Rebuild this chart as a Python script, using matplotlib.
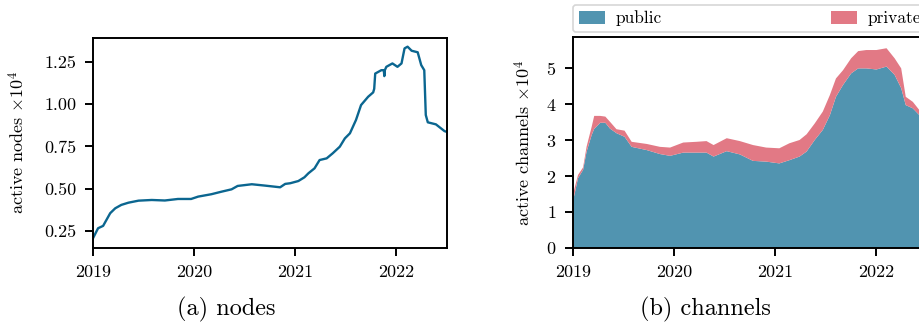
import matplotlib
matplotlib.use("Agg")
import matplotlib.pyplot as plt
from matplotlib.ticker import FormatStrFormatter

plt.rcParams['font.family'] = ['cmr10', 'DejaVu Serif']
plt.rcParams['mathtext.fontset'] = 'cm'
plt.rcParams['axes.formatter.use_mathtext'] = True
plt.rcParams['axes.unicode_minus'] = False

# active nodes (x 10^4)
node_years = [2019.00, 2019.05, 2019.10, 2019.17, 2019.22, 2019.28, 2019.35, 2019.45,
              2019.58, 2019.71, 2019.84, 2019.97, 2020.04, 2020.17, 2020.27, 2020.37,
              2020.43, 2020.57, 2020.70, 2020.85, 2020.90, 2020.95, 2021.03, 2021.09,
              2021.13, 2021.19, 2021.24, 2021.31, 2021.37, 2021.44, 2021.49, 2021.54,
              2021.60, 2021.65, 2021.72, 2021.77, 2021.78, 2021.79, 2021.85, 2021.875,
              2021.88, 2021.885, 2021.90, 2021.96, 2022.01, 2022.05, 2022.08, 2022.11,
              2022.15, 2022.21, 2022.245, 2022.275, 2022.29, 2022.31, 2022.39, 2022.475,
              2022.50]
node_vals = [0.207, 0.266, 0.280, 0.355, 0.384, 0.404, 0.417, 0.429,
             0.433, 0.430, 0.439, 0.439, 0.453, 0.467, 0.482, 0.496,
             0.516, 0.526, 0.518, 0.508, 0.528, 0.532, 0.545, 0.567,
             0.591, 0.620, 0.669, 0.679, 0.709, 0.748, 0.797, 0.827,
             0.906, 0.994, 1.043, 1.069, 1.090, 1.180, 1.200, 1.200,
             1.165, 1.200, 1.220, 1.240, 1.220, 1.240, 1.329, 1.339,
             1.315, 1.306, 1.230, 1.200, 0.935, 0.892, 0.880, 0.840,
             0.835]

# active channels (x 10^4)
chan_years = [2019.00, 2019.05, 2019.10, 2019.135, 2019.185, 2019.21, 2019.27, 2019.32,
              2019.365, 2019.43, 2019.51, 2019.58, 2019.73, 2019.86, 2019.96, 2020.09,
              2020.22, 2020.32, 2020.39, 2020.52, 2020.65, 2020.78, 2020.91, 2021.04,
              2021.14, 2021.24, 2021.31, 2021.39, 2021.47, 2021.54, 2021.60, 2021.67,
              2021.75, 2021.82, 2021.90, 2022.00, 2022.10, 2022.18, 2022.245, 2022.29,
              2022.36, 2022.425, 2022.50]
public = [1.30, 1.94, 2.17, 2.68, 3.14, 3.31, 3.48, 3.48,
          3.32, 3.19, 3.09, 2.81, 2.72, 2.61, 2.56, 2.65,
          2.65, 2.65, 2.54, 2.69, 2.60, 2.42, 2.40, 2.35,
          2.44, 2.54, 2.68, 3.00, 3.28, 3.69, 4.20, 4.53,
          4.85, 4.99, 4.99, 4.96, 5.04, 4.81, 4.44, 3.97,
          3.88, 3.69, 3.58]
private = [0.20, 0.09, 0.07, 0.14, 0.23, 0.36, 0.19, 0.17,
           0.19, 0.11, 0.17, 0.14, 0.17, 0.20, 0.23, 0.28,
           0.30, 0.32, 0.32, 0.36, 0.37, 0.44, 0.39, 0.42,
           0.47, 0.46, 0.48, 0.46, 0.51, 0.56, 0.51, 0.41,
           0.42, 0.48, 0.51, 0.54, 0.51, 0.46, 0.55, 0.23,
           0.18, 0.14, 0.14]

year_ticks = [2019, 2020, 2021, 2022]

line_color = '#0b6690'
public_color = '#5194b0'
private_color = '#e27985'

fig = plt.figure(figsize=(9.2, 3.24), dpi=100)
ax1 = fig.add_axes([0.1011, 0.2355, 0.3848, 0.6481])
ax2 = fig.add_axes([0.6228, 0.2346, 0.3848, 0.6521])


def style_axes(ax):
    for sp in ax.spines.values():
        sp.set_linewidth(1.4)
    ax.tick_params(direction='out', length=5.5, width=1.4, labelsize=13,
                   pad=6.5, top=False, right=False)
    ax.set_xticks(year_ticks)
    ax.set_xticklabels([str(y) for y in year_ticks])
    ax.set_xlim(2019.0, 2022.5)


# (a) nodes
ax1.plot(node_years, node_vals, color=line_color, lw=1.7)
ax1.set_ylim(0.151, 1.392)
ax1.set_yticks([0.25, 0.50, 0.75, 1.00, 1.25])
ax1.yaxis.set_major_formatter(FormatStrFormatter('%.2f'))
ax1.set_ylabel(r'active nodes $\times10^4$', fontsize=13)
style_axes(ax1)
ax1.yaxis.set_label_coords(-0.184, 0.5)

# (b) channels
ax2.stackplot(chan_years, public, private, colors=[public_color, private_color],
              labels=['public', 'private'], lw=0)
ax2.set_ylim(0, 5.87)
ax2.set_yticks([0, 1, 2, 3, 4, 5])
ax2.set_ylabel(r'active channels $\times10^4$', fontsize=13)
style_axes(ax2)
ax2.yaxis.set_label_coords(-0.113, 0.5)
leg = ax2.legend(loc='lower left', bbox_to_anchor=(0.0, 1.02, 1.0, 0.12), mode='expand',
                 ncol=2, fontsize=12.5, frameon=True, fancybox=True, borderaxespad=0.0,
                 handlelength=1.5, handleheight=0.8, handletextpad=0.6, borderpad=0.35)
leg.get_frame().set_edgecolor('#cccccc')
leg.get_frame().set_linewidth(1.2)

fig.text(0.2457, 0.046, '(a) nodes', ha='center', va='center', fontsize=17.5)
fig.text(0.7663, 0.046, '(b) channels', ha='center', va='center', fontsize=17.5)

fig.savefig('out.png', dpi=100)
